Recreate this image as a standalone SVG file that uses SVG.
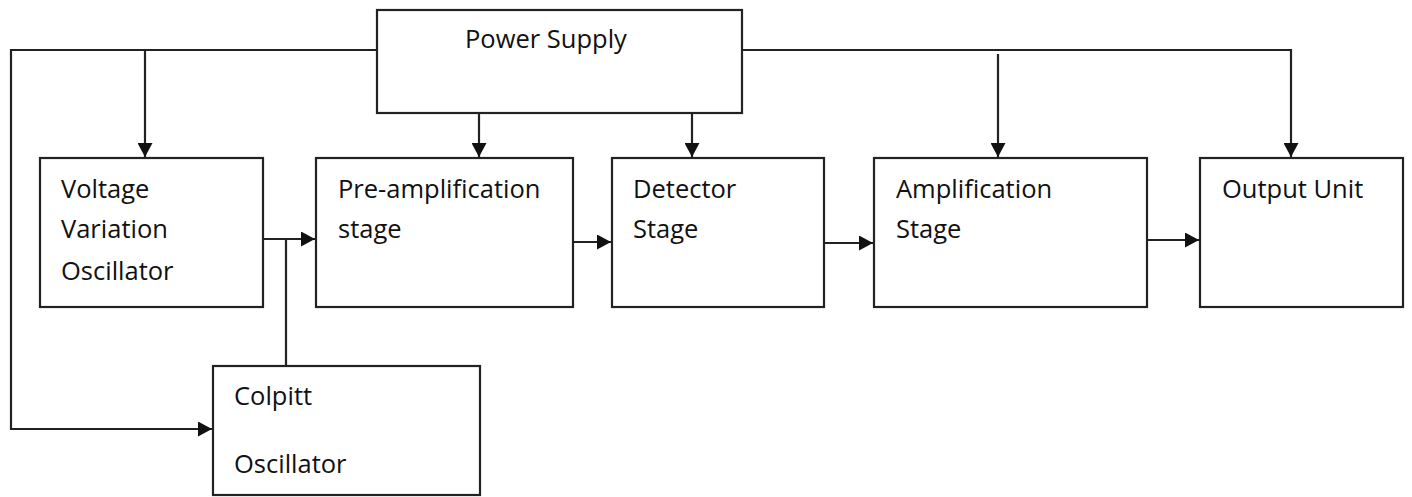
<svg xmlns="http://www.w3.org/2000/svg" width="1412" height="497" viewBox="0 0 1412 497">
<style>
.box{fill:#fff;stroke:#222;stroke-width:2.2}
.ln{fill:none;stroke:#222;stroke-width:2.2}
text{font-family:"Open Sans","Noto Sans",sans-serif;font-size:25.5px;fill:#111}
</style>
<defs>
<marker id="ah" markerUnits="userSpaceOnUse" markerWidth="15" markerHeight="15" refX="14" refY="7.5" orient="auto">
<path d="M0,0 L14,7.5 L0,15 z" fill="#111"/>
</marker>
</defs>
<rect width="1412" height="497" fill="#fff"/>
<g id="connectors">
<path class="ln" d="M377,50 H11 V429 H212" marker-end="url(#ah)"/>
<path class="ln" d="M145,50 V157" marker-end="url(#ah)"/>
<path class="ln" d="M479,113 V157" marker-end="url(#ah)"/>
<path class="ln" d="M692,113 V157" marker-end="url(#ah)"/>
<path class="ln" d="M742,50 H1291 V157" marker-end="url(#ah)"/>
<path class="ln" d="M998,54 V157" marker-end="url(#ah)"/>
<path class="ln" d="M263,239 H315" marker-end="url(#ah)"/>
<path class="ln" d="M286,239 V366"/>
<path class="ln" d="M573,242 H611" marker-end="url(#ah)"/>
<path class="ln" d="M824,243 H873" marker-end="url(#ah)"/>
<path class="ln" d="M1147,240 H1199" marker-end="url(#ah)"/>
</g>
<g id="power">
<rect class="box" x="377" y="10" width="365" height="103"/>
<text x="465" y="48">Power Supply</text>
</g>
<g id="vvo">
<rect class="box" x="40" y="158" width="223" height="149"/>
<text x="61" y="198">Voltage</text>
<text x="61" y="238">Variation</text>
<text x="61" y="280">Oscillator</text>
</g>
<g id="preamp">
<rect class="box" x="316" y="158" width="257" height="149"/>
<text x="338" y="198">Pre-amplification</text>
<text x="338" y="238">stage</text>
</g>
<g id="detector">
<rect class="box" x="612" y="158" width="212" height="149"/>
<text x="633" y="198">Detector</text>
<text x="633" y="238">Stage</text>
</g>
<g id="amp">
<rect class="box" x="874" y="158" width="273" height="149"/>
<text x="896" y="198">Amplification</text>
<text x="896" y="238">Stage</text>
</g>
<g id="output">
<rect class="box" x="1200" y="158" width="203" height="149"/>
<text x="1222" y="198">Output Unit</text>
</g>
<g id="colpitt">
<rect class="box" x="213" y="366" width="267" height="129"/>
<text x="234" y="405">Colpitt</text>
<text x="234" y="473">Oscillator</text>
</g>
</svg>
